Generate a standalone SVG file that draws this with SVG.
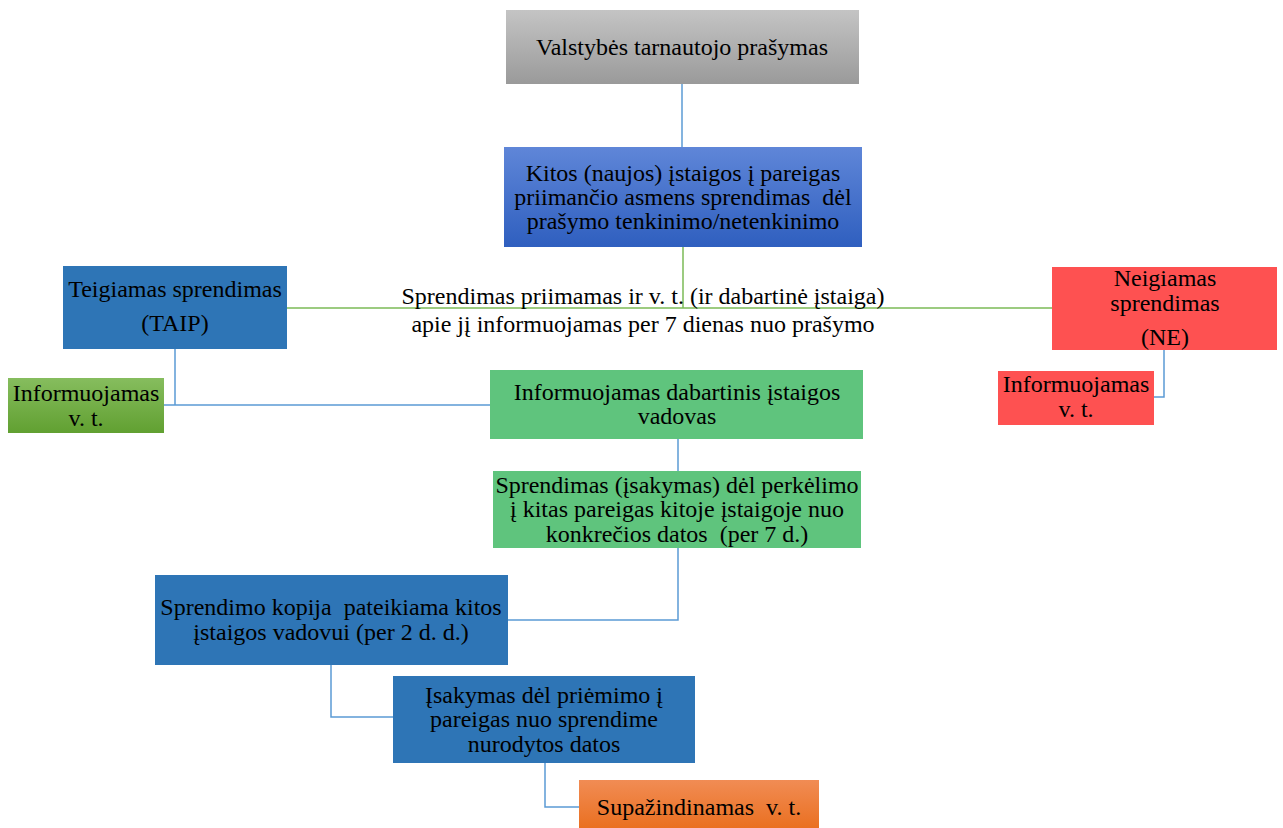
<svg xmlns="http://www.w3.org/2000/svg" width="1283" height="828" viewBox="0 0 1283 828">
<defs>
<linearGradient id="gGray" x1="0" y1="0" x2="0" y2="1"><stop offset="0" stop-color="#c4c4c4"/><stop offset="1" stop-color="#9a9a9a"/></linearGradient>
<linearGradient id="gBlue" x1="0" y1="0" x2="0" y2="1"><stop offset="0" stop-color="#5f86d8"/><stop offset="1" stop-color="#2f5fbf"/></linearGradient>
<linearGradient id="gLime" x1="0" y1="0" x2="0" y2="1"><stop offset="0" stop-color="#86bd5e"/><stop offset="1" stop-color="#61a031"/></linearGradient>
<linearGradient id="gOrange" x1="0" y1="0" x2="0" y2="1"><stop offset="0" stop-color="#f18c54"/><stop offset="1" stop-color="#ea7021"/></linearGradient>
</defs>
<style>
.blue{fill:#2e75b6}
.red{fill:#fe5151}
.green{fill:#5fc47d}
.cb{fill:none;stroke:#5b9bd5;stroke-width:1.5}
.cg{fill:none;stroke:#7cbb57;stroke-width:1.5}
.pre{white-space:pre}
</style>
<g id="connectors">
<path class="cb" d="M682,84 V147"/>
<path class="cg" d="M683,247 V308 M287,308 H1052"/>
<path class="cb" d="M175,349 V405 H164 M175,405 H490"/>
<path class="cb" d="M1164,350 V397 H1154"/>
<path class="cb" d="M678,439 V471"/>
<path class="cb" d="M678,548 V620 H508"/>
<path class="cb" d="M331,665 V717 H393"/>
<path class="cb" d="M545,763 V807 H579"/>
</g>
<g font-family="'Liberation Serif', 'Times New Roman', serif" font-size="24" fill="#000" text-anchor="middle">
<g id="n1"><rect x="506" y="10" width="353" height="74" fill="url(#gGray)"/><text x="682" y="55">Valstybės tarnautojo prašymas</text></g>
<g id="n2"><rect x="504" y="147" width="358" height="100" fill="url(#gBlue)"/><text x="683" y="181">Kitos (naujos) įstaigos į pareigas</text><text x="683" y="205" class="pre">priimančio asmens sprendimas  dėl</text><text x="683" y="229">prašymo tenkinimo/netenkinimo</text></g>
<g id="n3"><rect x="63" y="266" width="224" height="83" class="blue"/><text x="175" y="297">Teigiamas sprendimas</text><text x="175" y="331">(TAIP)</text></g>
<g id="n4"><rect x="1052" y="267" width="225" height="83" class="red"/><text x="1165" y="286">Neigiamas</text><text x="1165" y="311">sprendimas</text><text x="1165" y="345">(NE)</text></g>
<g id="lbl"><text x="643" y="304">Sprendimas priimamas ir v. t. (ir dabartinė įstaiga)</text><text x="643" y="332">apie jį informuojamas per 7 dienas nuo prašymo</text></g>
<g id="n5"><rect x="8" y="378" width="156" height="55" fill="url(#gLime)"/><text x="86" y="401">Informuojamas</text><text x="86" y="426">v. t.</text></g>
<g id="n6"><rect x="998" y="371" width="156" height="54" class="red"/><text x="1076" y="392">Informuojamas</text><text x="1076" y="417">v. t.</text></g>
<g id="n7"><rect x="490" y="370" width="373" height="69" class="green"/><text x="677" y="400">Informuojamas dabartinis įstaigos</text><text x="677" y="424">vadovas</text></g>
<g id="n8"><rect x="493" y="471" width="368" height="77" class="green"/><text x="677" y="493">Sprendimas (įsakymas) dėl perkėlimo</text><text x="677" y="517">į kitas pareigas kitoje įstaigoje nuo</text><text x="677" y="542" class="pre">konkrečios datos  (per 7 d.)</text></g>
<g id="n9"><rect x="155" y="575" width="353" height="90" class="blue"/><text x="331" y="615" class="pre">Sprendimo kopija  pateikiama kitos</text><text x="331" y="640">įstaigos vadovui (per 2 d. d.)</text></g>
<g id="n10"><rect x="393" y="676" width="302" height="87" class="blue"/><text x="544" y="703">Įsakymas dėl priėmimo į</text><text x="544" y="727">pareigas nuo sprendime</text><text x="544" y="752">nurodytos datos</text></g>
<g id="n11"><rect x="579" y="780" width="240" height="48" fill="url(#gOrange)"/><text x="699" y="815" class="pre">Supažindinamas  v. t.</text></g>
</g>
</svg>
